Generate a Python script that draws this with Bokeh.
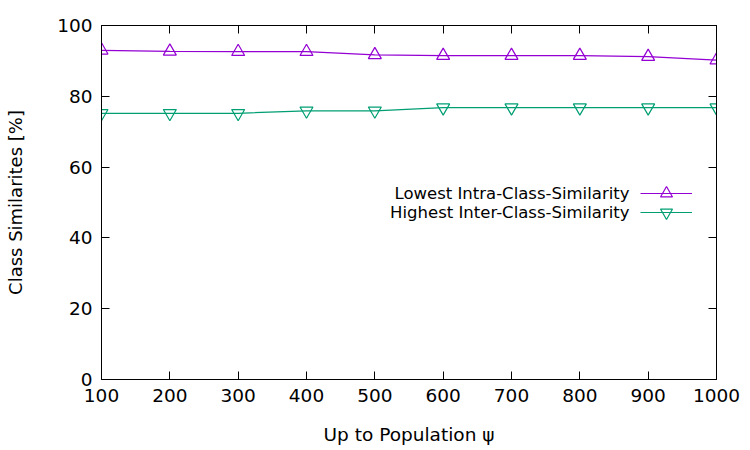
from bokeh.plotting import figure
from bokeh.models import (Range1d, LinearAxis, FixedTicker, CustomJSTickFormatter,
                          Legend, LegendItem, Label, ColumnDataSource)
from bokeh.embed import file_html
from bokeh.resources import INLINE

population = [100, 200, 300, 400, 500, 600, 700, 800, 900, 1000]
lowest_intra = [93.0, 92.7, 92.6, 92.6, 91.7, 91.5, 91.5, 91.5, 91.2, 90.2]
highest_inter = [75.2, 75.2, 75.2, 75.9, 75.9, 76.8, 76.8, 76.8, 76.8, 76.8]
x_ticks = [100, 200, 300, 400, 500, 600, 700, 800, 900, 1000]
y_ticks = [0, 20, 40, 60, 80, 100]
series_names = ["Lowest Intra-Class-Similarity", "Highest Inter-Class-Similarity"]
colors = ["#9400d3", "#009e73"]

FONT = "DejaVu Sans"

p = figure(width=750, height=450, output_backend="svg", toolbar_location=None,
           x_range=Range1d(100, 1000), y_range=Range1d(0, 100),
           min_border_left=101, min_border_right=34, min_border_top=25,
           min_border_bottom=71, x_axis_label="Up to Population ψ",
           y_axis_label="Class Similarites [%]")
p.grid.visible = False
p.outline_line_color = "black"
p.outline_line_width = 1
p.background_fill_color = "white"
p.border_fill_color = "white"

for ax in (p.xaxis[0], p.yaxis[0]):
    ax.major_tick_in = 8
    ax.major_tick_out = 0
    ax.minor_tick_line_color = None
    ax.axis_line_color = "black"
    ax.major_tick_line_color = "black"
    ax.major_label_text_font = FONT
    ax.major_label_text_font_size = "18.5px"
    ax.major_label_text_color = "black"
    ax.axis_label_text_font = FONT
    ax.axis_label_text_font_style = "normal"
    ax.axis_label_text_color = "black"

p.xaxis[0].axis_label_text_font_size = "18.5px"
p.yaxis[0].axis_label_text_font_size = "18px"
p.xaxis[0].ticker = FixedTicker(ticks=x_ticks)
p.yaxis[0].ticker = FixedTicker(ticks=y_ticks)
p.xaxis[0].major_label_standoff = 9
p.yaxis[0].major_label_standoff = 9
p.xaxis[0].axis_label_standoff = 19
p.yaxis[0].axis_label_standoff = 28

blank = CustomJSTickFormatter(code="return ''")
top = LinearAxis(ticker=FixedTicker(ticks=x_ticks), formatter=blank,
                 major_tick_in=8, major_tick_out=0, minor_tick_line_color=None,
                 major_label_text_font_size="0px")
right = LinearAxis(ticker=FixedTicker(ticks=y_ticks), formatter=blank,
                   major_tick_in=8, major_tick_out=0, minor_tick_line_color=None,
                   major_label_text_font_size="0px")
p.add_layout(top, "above")
p.add_layout(right, "right")

src = ColumnDataSource(dict(x=population, a=lowest_intra, b=highest_inter))
l1 = p.line("x", "a", source=src, color=colors[0], line_width=1.2)
m1 = p.scatter("x", "a", source=src, marker="triangle", size=13,
               fill_color=None, line_color=colors[0], line_width=1.2)
l2 = p.line("x", "b", source=src, color=colors[1], line_width=1.2)
m2 = p.scatter("x", "b", source=src, marker="inverted_triangle", size=13,
               fill_color=None, line_color=colors[1], line_width=1.2)

for i, rends in enumerate([[l1, m1], [l2, m2]]):
    lg = Legend(items=[LegendItem(label=" ", renderers=rends)],
                location=(539, 171 - 19 * i), glyph_width=52, glyph_height=30,
                label_standoff=0, label_width=0, label_height=19,
                label_text_font_size="1px", padding=0, margin=0, spacing=0,
                border_line_color=None, background_fill_alpha=0)
    p.add_layout(lg, "center")

for i, name in enumerate(series_names):
    p.add_layout(Label(x=528, y=186 - 19 * i, x_units="screen", y_units="screen",
                       text=name, text_align="right", text_baseline="middle",
                       text_font=FONT, text_font_size="16.5px", text_color="black"))

open("out.html", "w").write(file_html(p, INLINE))
